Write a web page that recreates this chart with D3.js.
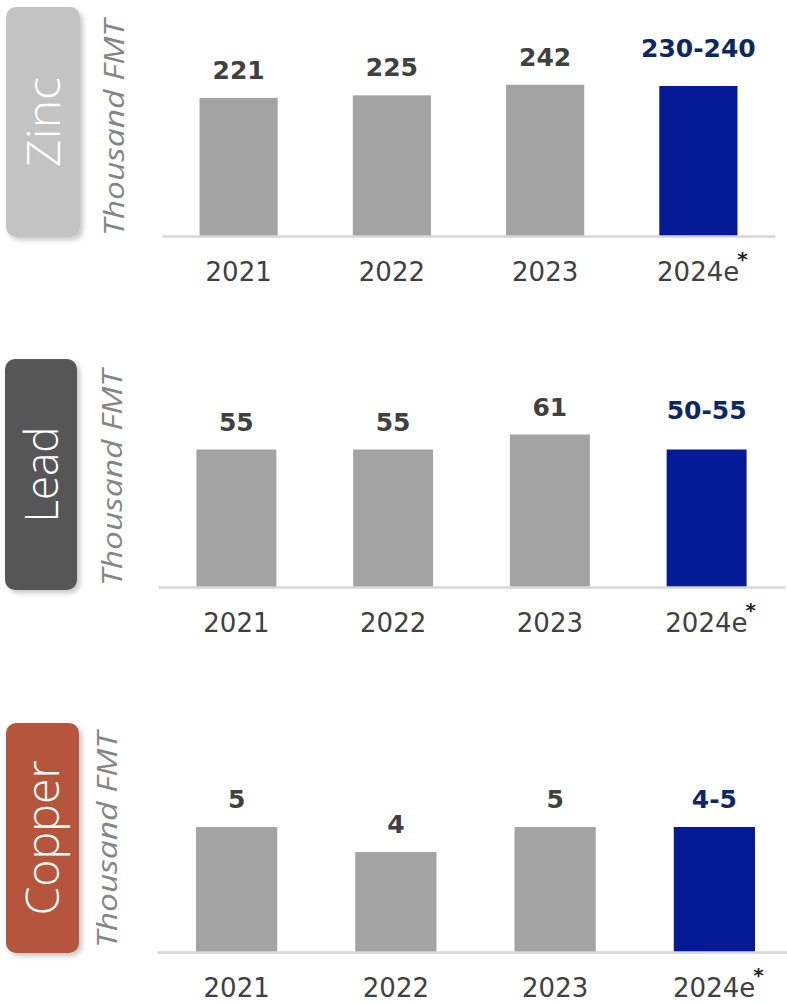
<!DOCTYPE html>
<html>
<head>
<meta charset="utf-8">
<script src="https://cdn.jsdelivr.net/npm/d3@7"></script>
<style>
  html, body { margin: 0; padding: 0; background: #ffffff; }
  svg { display: block; }
</style>
</head>
<body>
<svg id="chart" width="787" height="1004"></svg>
<script>
// ---- data ----
const categories = ["2021", "2022", "2023", "2024e"];
const metals = ["Zinc", "Lead", "Copper"];
const unitLabel = "Thousand FMT";

const zincActual = [221, 225, 242];
const zincEstimate = [230, 240];

const leadActual = [55, 55, 61];
const leadEstimate = [50, 55];

const copperActual = [5, 4, 5];
const copperEstimate = [4, 5];

// ---- layout (one entry per metal) ----
const layout = [
  { actual: zincActual, estimate: zincEstimate, boxFill: "#c3c3c3",
    box: { x: 6, y: 7, w: 74, h: 230 }, nameLen: 90,
    unitX: 124, unitCY: 128, axisY: 236, xRange: [162, 775], yMax: 320, estLift: 29 },
  { actual: leadActual, estimate: leadEstimate, boxFill: "#565656",
    box: { x: 5, y: 359, w: 72, h: 231 }, nameLen: 96,
    unitX: 122, unitCY: 478, axisY: 587, xRange: [158, 785], yMax: 80, estLift: 31 },
  { actual: copperActual, estimate: copperEstimate, boxFill: "#b5553a",
    box: { x: 6, y: 723, w: 73, h: 230 }, nameLen: 155,
    unitX: 117, unitCY: 840, axisY: 952, xRange: [157, 794], yMax: 8, estLift: 19 }
];

const plotHeight = 200;
const grayBar = "#a3a3a3";
const estBar = "#041a96";
const grayText = "#404040";
const estText = "#0c2766";
const fmt = d3.format(".0f");

const svg = d3.select("#chart");

// soft shadow behind the metal name tabs
const defs = svg.append("defs");
const shadow = defs.append("filter").attr("id", "tabShadow")
  .attr("x", "-20%").attr("y", "-20%").attr("width", "150%").attr("height", "150%");
shadow.append("feDropShadow")
  .attr("dx", 3).attr("dy", 3).attr("stdDeviation", 2.5)
  .attr("flood-color", "#000").attr("flood-opacity", 0.22);

layout.forEach((p, i) => {
  const g = svg.append("g").attr("class", "panel-" + metals[i].toLowerCase());

  const rows = categories.map((c, j) => {
    const isEst = j === categories.length - 1;
    return {
      cat: c,
      est: isEst,
      value: isEst ? p.estimate[1] : p.actual[j],
      label: isEst ? p.estimate.join("-") : fmt(p.actual[j])
    };
  });

  const x = d3.scaleBand()
    .domain(categories)
    .range(p.xRange)
    .paddingInner(0.49)
    .paddingOuter(0.245);

  const y = d3.scaleLinear()
    .domain([0, p.yMax])
    .range([p.axisY, p.axisY - plotHeight]);

  // metal name tab
  g.append("rect")
    .attr("x", p.box.x).attr("y", p.box.y)
    .attr("width", p.box.w).attr("height", p.box.h)
    .attr("rx", 10).attr("ry", 10)
    .attr("fill", p.boxFill)
    .attr("filter", "url(#tabShadow)");

  const bx = p.box.x + p.box.w / 2 + 16.5;
  const by = p.box.y + p.box.h / 2;
  g.append("text")
    .attr("transform", `translate(${bx},${by}) rotate(-90)`)
    .attr("text-anchor", "middle")
    .attr("font-family", "'Open Sans', 'Noto Sans', sans-serif")
    .attr("font-weight", 300)
    .attr("font-size", 46)
    .attr("fill", "#ffffff")
    .attr("textLength", p.nameLen)
    .attr("lengthAdjust", "spacingAndGlyphs")
    .text(metals[i]);

  // unit label
  g.append("text")
    .attr("transform", `translate(${p.unitX},${p.unitCY}) rotate(-90)`)
    .attr("text-anchor", "middle")
    .attr("font-family", "'Open Sans', 'Noto Sans', sans-serif")
    .attr("font-style", "italic")
    .attr("font-weight", 400)
    .attr("font-size", 28)
    .attr("fill", "#858585")
    .attr("textLength", 216)
    .attr("lengthAdjust", "spacingAndGlyphs")
    .text(unitLabel);

  // bars
  g.append("g").selectAll("rect")
    .data(rows)
    .join("rect")
    .attr("x", d => x(d.cat))
    .attr("width", x.bandwidth())
    .attr("y", d => y(d.value))
    .attr("height", d => y(0) - y(d.value))
    .attr("fill", d => d.est ? estBar : grayBar);

  // value labels
  g.append("g").selectAll("text")
    .data(rows)
    .join("text")
    .attr("x", d => x(d.cat) + x.bandwidth() / 2)
    .attr("y", d => y(d.value) - (d.est ? p.estLift : 19))
    .attr("text-anchor", "middle")
    .attr("font-family", "'DejaVu Sans', sans-serif")
    .attr("font-weight", 700)
    .attr("font-size", 25)
    .attr("fill", d => d.est ? estText : grayText)
    .text(d => d.label);

  // category axis with baseline
  const axis = g.append("g")
    .attr("transform", `translate(0,${p.axisY})`)
    .call(d3.axisBottom(x).tickSize(0).tickSizeOuter(0).tickPadding(27));
  axis.select(".domain").attr("stroke", "#d6d6d6").attr("stroke-width", 2.5);
  axis.selectAll(".tick text")
    .attr("font-family", "'DejaVu Sans', sans-serif")
    .attr("font-size", 26)
    .attr("fill", grayText);

  // footnote marker on the estimate year, raised after the "e"
  axis.selectAll(".tick text")
    .filter(d => d === categories[categories.length - 1])
    .attr("x", 4)
    .append("tspan")
    .attr("dx", -2)
    .attr("dy", "-0.75em")
    .attr("font-weight", 700)
    .attr("font-size", 20)
    .attr("fill", "#222222")
    .text("*");
});
</script>
</body>
</html>
